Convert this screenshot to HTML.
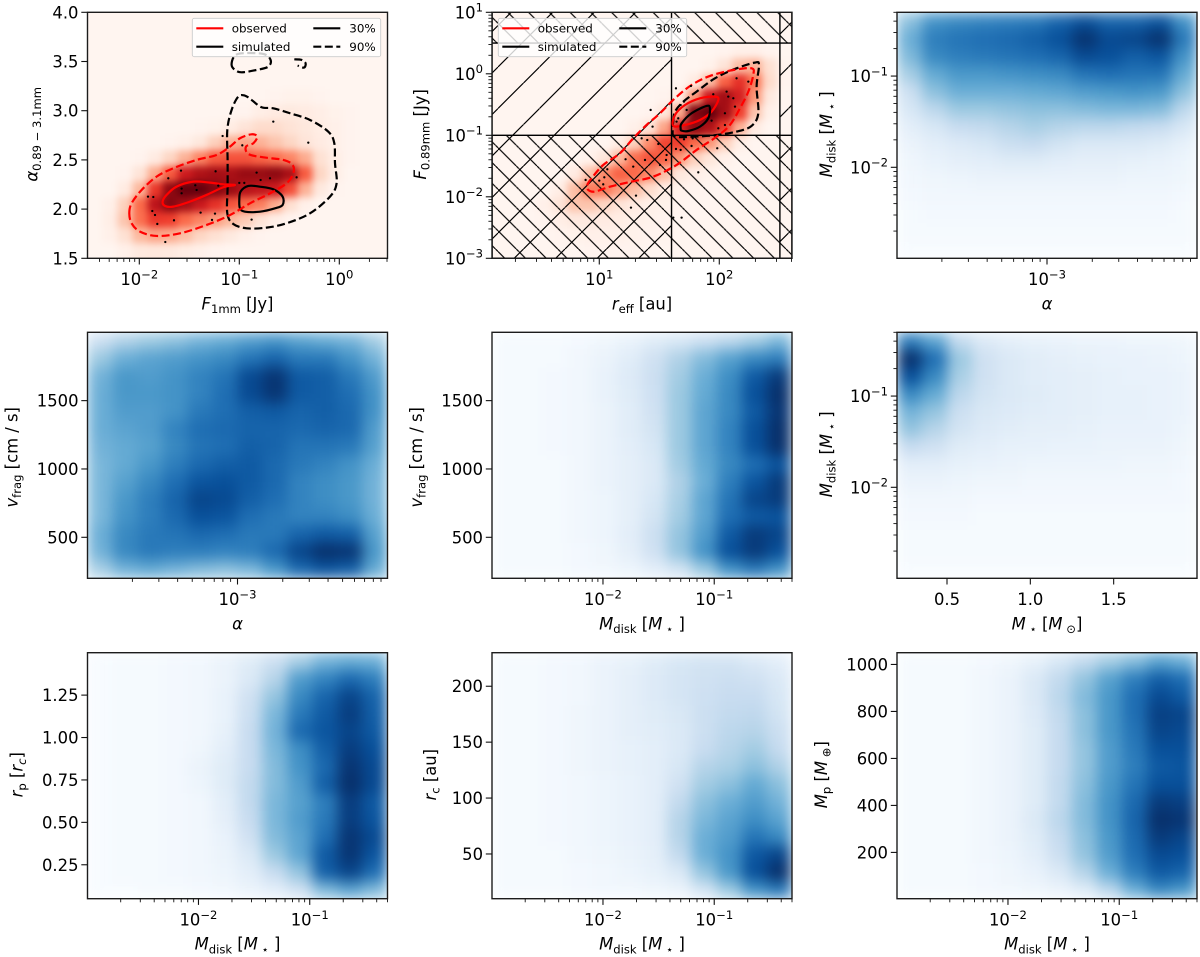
<!DOCTYPE html>
<html lang="en">
<head>
<meta charset="utf-8">
<title>Disk parameter density grid</title>
<style>
html,body{margin:0;padding:0;background:#fff;}
svg{display:block;font-family:"DejaVu Sans","Liberation Sans",sans-serif;}
</style>
</head>
<body>
<svg id="fig" xmlns="http://www.w3.org/2000/svg" width="1200" height="957" viewBox="0 0 1200 957">
<defs>
<filter id="blur-blue" filterUnits="userSpaceOnUse" x="-60" y="-60" width="1320" height="1080" color-interpolation-filters="sRGB"><feGaussianBlur stdDeviation="7"/></filter>
<filter id="blur-red" filterUnits="userSpaceOnUse" x="-60" y="-60" width="1320" height="1080" color-interpolation-filters="sRGB"><feGaussianBlur stdDeviation="3.6"/></filter>
<pattern id="hatch-forward" patternUnits="userSpaceOnUse" width="41.5" height="41.5"><path d="M0,25.5L25.5,0M25.5,41.5L41.5,25.5" stroke="#000" stroke-width="1.2" fill="none"/></pattern>
<pattern id="hatch-back" patternUnits="userSpaceOnUse" width="20.75" height="20.75"><path d="M0,2.5L18.25,20.75M18.25,0L20.75,2.5" stroke="#000" stroke-width="1.2" fill="none"/></pattern>
</defs>
</svg>
<script>
/* ---------- data: density grids (0-100 on the colormap), rows top to bottom ---------- */
const fluxAlphaDensity=[
[0,0,0,0,0,0,0,0,0,0,0,0,0,0,0,0,0,0,0,0],
[0,0,0,0,0,0,0,0,0,0,0,0,0,0,0,0,0,0,0,0],
[0,0,0,0,0,0,0,0,0,0,0,0,0,0,0,0,0,0,0,0],
[0,0,0,0,0,0,0,0,0,0,0,0,0,0,0,0,0,0,0,0],
[0,0,0,0,0,0,0,0,0,0,0,0,0,0,0,0,0,0,0,0],
[0,0,0,0,0,0,0,0,0,0,0,0,1,2,2,1,0,0,0,0],
[0,0,0,0,0,0,0,0,0,0,1,4,6,7,6,4,2,1,0,0],
[0,0,0,0,0,0,0,1,2,5,10,14,14,11,8,5,3,1,0,0],
[0,0,0,0,0,1,3,8,18,28,32,28,22,16,10,6,3,1,0,0],
[0,0,0,1,6,16,28,42,54,56,56,52,48,42,30,12,4,1,0,0],
[0,0,1,10,30,54,74,84,88,86,90,90,92,86,54,16,4,0,0,0],
[0,0,6,26,64,92,100,100,94,90,82,78,74,58,28,7,1,0,0,0],
[0,3,18,50,80,94,88,76,66,56,50,44,30,13,3,0,0,0,0,0],
[0,4,22,48,64,62,50,42,34,26,20,11,4,1,0,0,0,0,0,0],
[0,3,12,26,32,30,24,16,12,7,3,1,0,0,0,0,0,0,0,0],
[0,0,3,7,8,7,5,3,1,0,0,0,0,0,0,0,0,0,0,0]];
const radiusFluxDensity=[
[0,0,0,0,0,0,0,0,0,0,0,0,0,0,0,0,0,0,0,0],
[0,0,0,0,0,0,0,0,0,0,0,0,0,0,0,0,0,0,0,0],
[0,0,0,0,0,0,0,0,0,0,0,0,0,0,0,1,3,3,1,0],
[0,0,0,0,0,0,0,0,0,0,0,0,0,0,2,10,24,28,12,1],
[0,0,0,0,0,0,0,0,0,0,0,0,0,6,24,52,66,46,14,1],
[0,0,0,0,0,0,0,0,0,0,0,1,5,36,75,88,72,36,7,0],
[0,0,0,0,0,0,0,0,0,0,1,8,30,95,100,88,62,22,3,0],
[0,0,0,0,0,0,0,0,0,3,10,32,72,92,84,62,28,6,0,0],
[0,0,0,0,0,0,0,0,5,18,40,60,62,50,36,18,4,0,0,0],
[0,0,0,0,0,0,2,9,26,48,56,52,36,18,9,3,0,0,0,0],
[0,0,0,0,0,6,22,40,52,50,40,24,8,4,2,0,0,0,0,0],
[0,0,0,0,4,24,44,46,34,24,14,5,2,1,0,0,0,0,0,0],
[0,0,0,3,10,22,22,16,10,6,3,2,1,0,0,0,0,0,0,0],
[0,0,0,1,4,7,7,6,5,3,2,1,0,0,0,0,0,0,0,0],
[0,0,0,0,1,2,3,3,3,2,1,1,0,0,0,0,0,0,0,0],
[0,0,0,0,0,0,1,1,1,1,0,0,0,0,0,0,0,0,0,0]];
const alphaMdiskDensity=[
[42,62,66,68,70,72,80,88,80,80,86,62],
[50,70,74,76,78,82,88,99,90,92,99,72],
[45,66,70,72,74,76,80,90,88,82,86,62],
[35,52,60,60,62,64,66,74,76,74,74,52],
[22,42,50,50,50,52,54,58,60,62,60,42],
[16,28,38,38,40,42,42,44,46,46,44,28],
[10,16,24,26,30,34,30,28,28,26,24,16],
[6,10,13,16,22,24,18,14,14,14,12,8],
[4,7,9,10,12,12,10,9,9,8,7,5],
[3,4,5,6,6,6,6,6,6,5,5,4],
[2,3,3,3,3,3,3,3,3,3,3,2],
[1,2,2,2,2,2,2,2,2,2,2,1],
[1,1,1,1,1,1,1,1,1,1,1,1],
[0,0,0,0,0,0,0,0,0,0,0,0]];
const alphaVfragDensity=[
[22,32,38,42,48,52,58,62,56,52,48,36],
[38,50,55,58,62,66,74,80,72,72,62,48],
[48,60,58,62,68,74,90,98,84,82,72,58],
[50,60,60,62,68,76,90,98,84,82,76,62],
[50,58,58,62,72,76,82,84,80,82,78,62],
[50,55,58,68,76,78,80,80,78,80,78,58],
[48,52,56,66,74,76,82,80,74,74,72,56],
[46,52,60,70,78,82,84,78,72,68,62,50],
[46,56,66,76,86,88,84,78,68,64,60,48],
[46,60,70,80,92,90,82,76,68,64,60,48],
[46,62,70,78,88,86,76,72,68,68,64,50],
[50,66,72,74,78,76,72,72,80,84,82,56],
[48,66,72,70,70,68,70,78,92,100,98,60],
[34,48,52,48,44,42,46,60,78,86,82,52]];
const mdiskVfragDensity=[
[1,1,1,2,4,7,12,16,22,28,36,46],
[1,1,1,3,6,11,20,32,44,56,66,70],
[1,1,2,3,7,13,22,36,50,64,84,96],
[1,1,2,3,7,12,21,38,52,66,88,100],
[1,1,2,3,6,11,20,38,54,66,84,98],
[1,1,2,3,6,11,18,38,54,68,88,100],
[1,1,2,3,6,10,16,38,54,68,88,100],
[1,1,1,3,6,9,14,36,52,66,76,86],
[1,1,1,3,6,9,14,32,50,70,86,96],
[1,1,1,3,5,9,16,34,54,74,92,96],
[1,1,1,3,5,9,18,36,54,76,84,86],
[1,1,1,3,5,10,22,40,58,84,96,92],
[1,1,1,2,4,9,20,40,62,88,96,88],
[1,1,1,2,3,5,10,18,38,62,72,62]];
const mstarMdiskDensity=[
[70,55,26,14,10,8,7,6,6,5,5,4],
[100,76,38,20,14,11,9,8,7,7,6,5],
[88,66,34,20,14,11,10,9,8,7,7,6],
[66,52,28,18,14,12,10,9,8,8,7,6],
[48,40,22,15,13,11,10,9,8,8,7,6],
[40,30,18,13,11,9,9,8,7,7,7,5],
[24,20,12,10,8,8,7,7,6,6,6,4],
[10,10,8,7,6,5,5,5,5,4,4,3],
[6,6,5,4,4,3,3,3,3,3,3,2],
[3,3,3,2,2,2,2,2,2,2,2,2],
[2,2,2,1,1,1,1,1,1,1,1,1],
[1,1,1,1,1,1,1,1,1,1,1,1],
[1,1,1,1,1,1,1,1,1,1,1,1],
[0,0,0,0,0,0,0,0,0,0,0,0]];
const mdiskRpDensity=[
[0,1,1,2,3,6,12,22,35,48,52,50],
[0,1,1,2,3,6,14,30,58,68,78,70],
[0,1,1,2,3,7,20,40,66,80,92,80],
[0,1,1,2,3,7,22,46,72,84,95,82],
[0,1,1,2,3,8,24,48,78,86,92,84],
[0,1,1,2,4,10,24,46,64,82,95,88],
[0,1,1,2,6,12,24,44,62,78,98,90],
[0,1,1,2,5,12,26,44,58,82,100,90],
[0,1,1,2,3,10,26,46,56,70,95,84],
[0,1,1,2,3,9,24,46,58,72,95,86],
[0,1,1,2,3,7,20,44,55,76,98,90],
[0,1,1,2,3,6,14,38,54,84,98,86],
[0,1,1,2,3,5,10,24,40,82,92,76],
[0,0,1,1,2,3,6,10,20,45,55,45]];
const mdiskRcDensity=[
[1,1,2,3,6,8,12,16,18,18,14,10],
[1,1,2,3,6,9,13,17,20,22,20,14],
[1,1,2,3,6,9,13,17,21,24,24,16],
[1,1,2,4,6,9,12,15,22,26,27,18],
[1,1,2,4,6,9,11,14,22,28,30,22],
[1,1,2,4,6,8,10,14,24,30,36,25],
[1,1,2,4,6,8,10,16,30,34,42,32],
[1,1,2,3,5,7,10,20,36,42,52,42],
[1,1,2,3,5,7,10,26,42,50,58,48],
[1,1,2,3,5,7,10,30,46,55,64,55],
[1,1,2,3,5,7,10,30,50,58,74,66],
[1,1,1,3,4,6,9,26,50,62,85,92],
[1,1,1,2,3,5,8,14,40,60,88,100],
[1,1,1,2,3,3,4,6,18,38,62,72]];
const mdiskMpDensity=[
[1,1,1,2,4,8,16,26,36,44,56,50],
[1,1,1,3,6,14,26,40,56,70,82,76],
[1,1,1,3,6,14,28,44,60,76,90,84],
[1,1,1,3,6,13,26,42,60,76,94,92],
[1,1,1,3,6,12,25,42,60,74,92,90],
[1,1,1,3,6,12,25,40,58,72,88,88],
[1,1,1,3,6,12,25,40,58,70,84,86],
[1,1,1,3,6,12,26,42,60,74,88,88],
[1,1,1,3,6,12,26,44,62,78,96,94],
[1,1,1,3,6,14,28,44,62,80,100,98],
[1,1,1,3,6,12,25,42,60,78,96,92],
[1,1,1,3,5,10,22,40,58,76,90,88],
[1,1,1,2,4,7,14,30,50,70,84,80],
[1,1,1,2,3,4,6,12,28,50,66,60]];

/* ---------- data: contours, as [log10 x, y] or [log10 x, log10 y] ---------- */
const fluxObserved90=[[-2.1,1.957],[-2.077,2.059],[-1.977,2.194],[-1.827,2.33],[-1.66,2.415],[-1.427,2.5],[-1.227,2.55],[-1.093,2.635],[-0.993,2.72],[-0.877,2.76],[-0.82,2.736],[-0.86,2.669],[-0.933,2.635],[-0.91,2.56],[-0.76,2.526],[-0.56,2.5],[-0.467,2.449],[-0.46,2.364],[-0.527,2.262],[-0.693,2.16],[-0.893,2.059],[-1.093,1.94],[-1.327,1.839],[-1.593,1.754],[-1.827,1.727],[-1.993,1.771],[-2.077,1.856]];
const fluxObserved30=[[-1.767,2.076],[-1.727,2.144],[-1.627,2.228],[-1.46,2.279],[-1.293,2.269],[-1.16,2.252],[-1.043,2.245],[-1.16,2.222],[-1.327,2.144],[-1.493,2.076],[-1.66,2.025],[-1.743,2.032]];
const fluxSimulated30=[[-1.0,2.093],[-0.987,2.178],[-0.91,2.235],[-0.793,2.228],[-0.66,2.201],[-0.567,2.127],[-0.567,2.042],[-0.643,2.008],[-0.793,1.974],[-0.943,1.974],[-0.993,2.008]];
const fluxSimulated90=[[-1.12,1.957],[-1.06,1.849],[-0.927,1.805],[-0.727,1.812],[-0.527,1.856],[-0.293,1.957],[-0.093,2.127],[-0.027,2.262],[-0.043,2.465],[-0.05,2.669],[-0.11,2.787],[-0.293,2.906],[-0.493,2.974],[-0.66,3.024],[-0.777,3.035],[-0.877,3.109],[-0.943,3.153],[-1.01,3.143],[-1.077,3.007],[-1.12,2.804],[-1.117,2.499],[-1.117,2.228]];
const fluxSimulated90Island=[[-1.077,3.465],[-1.053,3.549],[-0.977,3.583],[-0.76,3.577],[-0.687,3.516],[-0.71,3.448],[-0.827,3.414],[-0.977,3.39],[-1.043,3.414]];
const fluxSimulated90Fragment=[[-0.45,3.522],[-0.377,3.516],[-0.337,3.482],[-0.353,3.438],[-0.417,3.458]];
const radiusObserved90=[[0.9,-1.808],[0.936,-1.699],[1.033,-1.482],[1.172,-1.293],[1.283,-1.049],[1.394,-0.832],[1.506,-0.642],[1.631,-0.398],[1.769,-0.182],[1.922,-0.035],[2.117,0.062],[2.269,0.089],[2.283,-0.019],[2.242,-0.29],[2.172,-0.561],[2.089,-0.832],[1.978,-1.022],[1.811,-1.238],[1.644,-1.482],[1.45,-1.672],[1.269,-1.753],[1.089,-1.835],[0.964,-1.916],[0.908,-1.889]];
const radiusObserved30=[[1.617,-0.848],[1.631,-0.669],[1.714,-0.507],[1.839,-0.398],[1.964,-0.371],[1.992,-0.425],[1.936,-0.615],[1.839,-0.751],[1.714,-0.832]];
const radiusSimulated30=[[1.678,-0.886],[1.686,-0.805],[1.769,-0.642],[1.894,-0.523],[1.922,-0.561],[1.908,-0.724],[1.839,-0.859],[1.742,-0.93],[1.686,-0.924]];
const radiusSimulated90=[[1.617,-0.778],[1.631,-0.615],[1.7,-0.453],[1.811,-0.29],[1.964,-0.073],[2.144,0.089],[2.297,0.182],[2.331,0.144],[2.311,-0.209],[2.325,-0.642],[2.269,-0.848],[2.144,-0.94],[1.978,-0.995],[1.783,-1.022],[1.631,-1.022],[1.611,-0.913]];

/* ---------- data: observed sources ---------- */
const fluxPoints=[[-0.66,2.889],[-0.31,2.675],[-1.167,2.743],[-0.97,2.648],[-1.583,2.391],[-1.71,2.313],[-1.237,2.384],[-0.827,2.371],[-0.787,2.296],[-0.693,2.313],[-0.427,2.323],[-1.0,2.266],[-0.95,2.266],[-1.44,2.242],[-1.427,2.194],[-1.577,2.208],[-1.577,2.161],[-1.21,2.238],[-1.913,2.127],[-1.86,2.123],[-1.87,1.981],[-1.843,1.94],[-1.82,1.849],[-1.653,1.886],[-1.387,1.964],[-1.243,1.954],[-1.273,1.89],[-0.877,1.893],[-1.74,1.666]];
const radiusPoints=[[1.428,-0.588],[1.444,-0.859],[1.639,-0.236],[1.764,-0.198],[2.144,-0.073],[2.242,-0.127],[2.061,-0.29],[2.075,-0.371],[1.95,-0.333],[2.117,-0.398],[2.131,-0.534],[2.047,-0.642],[1.936,-0.762],[1.706,-0.453],[1.678,-0.507],[1.728,-0.588],[1.644,-0.778],[1.658,-0.724],[2.047,-0.832],[1.992,-0.886],[1.778,-1.049],[1.706,-1.065],[1.639,-1.222],[1.678,-1.238],[1.769,-1.173],[1.983,-1.211],[1.825,-1.602],[1.353,-1.049],[1.4,-1.076],[1.492,-1.141],[1.561,-1.32],[1.219,-1.39],[1.381,-1.401],[1.283,-1.509],[1.067,-1.553],[1.042,-1.683],[1.0,-1.737],[1.033,-1.797],[0.886,-1.726],[1.306,-1.981],[1.264,-2.176],[1.617,-2.339],[1.686,-2.339],[1.556,-1.401],[1.506,-1.482]];

/* ---------- data: ticks and selection limits ---------- */
const alphaTicks=[1.5,2.0,2.5,3.0,3.5,4.0];
const vfragTicks=[500,1000,1500];
const mstarTicks=[0.5,1.0,1.5];
const rpTicks=[0.25,0.5,0.75,1.0,1.25];
const rcTicks=[50,100,150,200];
const mpTicks=[200,400,600,800,1000];
const radiusLimits=[40,320];
const fluxLimits=[0.1,3.16];

/* ---------- scales ---------- */
function linScale(min,max,p0,p1){
  return {log:false,min:min,max:max,
    to:function(v){return p0+(v-min)/(max-min)*(p1-p0);},
    at:function(f){return min+f*(max-min);}};
}
function logScale(min,max,p0,p1){
  const a=Math.log10(min),b=Math.log10(max);
  return {log:true,min:min,max:max,
    to:function(v){return p0+(Math.log10(v)-a)/(b-a)*(p1-p0);},
    at:function(f){return Math.pow(10,a+f*(b-a));}};
}

/* ---------- colormaps ---------- */
const blues=["#f7fbff","#deebf7","#c6dbef","#9ecae1","#6baed6","#4292c6","#2171b5","#08519c","#08306b"];
const reds=["#fff5f0","#fee0d2","#fcbba1","#fc9272","#fb6a4a","#ef3b2c","#cb181d","#a50f15","#67000d"];
function hexRGB(h){return [parseInt(h.substr(1,2),16),parseInt(h.substr(3,2),16),parseInt(h.substr(5,2),16)];}
function cmap(stops,v){
  const t=Math.max(0,Math.min(1,v/100))*(stops.length-1);
  const i=Math.min(stops.length-2,Math.floor(t)),f=t-i;
  const a=hexRGB(stops[i]),b=hexRGB(stops[i+1]);
  return "rgb("+a.map(function(c,k){return Math.round(c+(b[k]-c)*f);}).join(",")+")";
}

/* ---------- svg helpers ---------- */
const NS="http://www.w3.org/2000/svg";
const fig=document.getElementById("fig");
function mk(tag,attrs,parent){
  const e=document.createElementNS(NS,tag);
  for(const k in attrs){e.setAttribute(k,attrs[k]);}
  parent.appendChild(e);
  return e;
}
function sub(t){return '<tspan dy="3.6" font-size="11.6">'+t+'</tspan><tspan dy="-3.6" font-size="16.4">&#8203;</tspan>';}
function it(t){return '<tspan font-style="italic">'+t+'</tspan>';}
const labelFlux1=it("F")+sub("1mm")+" [Jy]";
const labelAlphaIdx=it("&#945;")+sub("0.89 &#8722; 3.1mm");
const labelReff=it("r")+sub("eff")+" [au]";
const labelF089=it("F")+sub("0.89mm")+" [Jy]";
const labelAlpha=it("&#945;");
const labelMdisk=it("M")+sub("disk")+" ["+it("M")+sub(" &#8902;")+" ]";
const labelVfrag=it("v")+sub("frag")+" [cm / s]";
const labelMstar=it("M")+sub(" &#8902;")+" ["+it("M")+sub(" &#8857;")+"]";
const labelRp=it("r")+sub("p")+" ["+it("r")+'<tspan dy="3.6" font-size="11.6" font-style="italic">c</tspan><tspan dy="-3.6">]</tspan>';
const labelRc=it("r")+sub("c")+" [au]";
const labelMp=it("M")+sub("p")+" ["+it("M")+sub(" &#8853;")+"]";

function smoothPath(pts,closed){
  const n=pts.length;
  let d="M"+pts[0][0].toFixed(2)+","+pts[0][1].toFixed(2);
  const last=closed?n:n-1;
  for(let i=0;i<last;i++){
    const p0=pts[closed?(i-1+n)%n:Math.max(0,i-1)];
    const p1=pts[i];
    const p2=pts[closed?(i+1)%n:i+1];
    const p3=pts[closed?(i+2)%n:Math.min(n-1,i+2)];
    d+="C"+(p1[0]+(p2[0]-p0[0])/6).toFixed(2)+","+(p1[1]+(p2[1]-p0[1])/6).toFixed(2)+" "+(p2[0]-(p3[0]-p1[0])/6).toFixed(2)+","+(p2[1]-(p3[1]-p1[1])/6).toFixed(2)+" "+p2[0].toFixed(2)+","+p2[1].toFixed(2);
  }
  return d+(closed?"Z":"");
}

/* ---------- panel drawing ---------- */
let clipCount=0;
function drawPanel(cfg){
  const L=cfg.box[0],T=cfg.box[1],R=L+300,B=T+246;
  const g=mk("g",{},fig);
  
  
  clipCount++;
  const clip=mk("clipPath",{id:"clip"+clipCount},g);
  mk("rect",{x:L,y:T,width:300,height:246},clip);
  const plot=mk("g",{"clip-path":"url(#clip"+clipCount+")"},g);
  const heat=mk("g",{filter:"url(#"+(cfg.red?"blur-red":"blur-blue")+")","shape-rendering":"crispEdges"},plot);
  
  
  const rows=cfg.grid.length,cols=cfg.grid[0].length;
  const ext=cfg.red?50:0;
  for(let j=0;j<rows;j++){
    for(let i=0;i<cols;i++){
      const x0=cfg.sx.to(cfg.sx.at(i/cols))-(i===0?ext:0);
      const x1=cfg.sx.to(cfg.sx.at((i+1)/cols))+(i===cols-1?ext:0.5);
      const y0=cfg.sy.to(cfg.sy.at(1-j/rows))-(j===0?ext:0);
      const y1=cfg.sy.to(cfg.sy.at(1-(j+1)/rows))+(j===rows-1?ext:0.5);
      const cell=mk("rect",{x:x0,y:y0,width:x1-x0,height:y1-y0,fill:cmap(cfg.red?reds:blues,cfg.grid[j][i])},heat);
      
      
    }
  }
  if(cfg.overlay){cfg.overlay(plot,cfg);}
  /* spines */
  const frame=mk("rect",{x:L,y:T,width:300,height:246,fill:"none",stroke:"#1c1c1c","stroke-width":1.4},g);
  
  
  /* x ticks */
  drawTicks(g,cfg.sx,cfg.xTicks,cfg.xFmt,true,B,L,T);
  drawTicks(g,cfg.sy,cfg.yTicks,cfg.yFmt,false,B,L,T);
  /* axis labels */
  const xl=mk("text",{x:L+150+(cfg.xlabelDx||0),y:B+51,"text-anchor":"middle","font-size":16.4,fill:"#000"},g);
  xl.innerHTML=cfg.xlabel;
  
  
  const yx=L-cfg.ylabelOffset,yy=T+cfg.ylabelCenter;
  const yl=mk("text",{x:yx,y:yy,"text-anchor":"middle","font-size":16.4,fill:"#000",transform:"rotate(-90 "+yx+" "+yy+")"},g);
  yl.innerHTML=cfg.ylabel;
  
  
  if(cfg.legend){drawLegend(g,cfg.legend[0],cfg.legend[1]);}
}
function powLabel(v){
  const e=Math.round(Math.log10(v));
  return '10<tspan dy="-6.6" font-size="11.6">'+(e<0?"&#8722;"+(-e):e)+'</tspan>';
}
function drawTicks(g,s,ticks,fmt,isX,B,L,T){
  const minorLen=3.6,majorLen=6.2;
  function tick(v,len,labelled){
    const p=s.to(v);
    const ln=mk("line",isX?{x1:p,x2:p,y1:B,y2:B+len}:{x1:L,x2:L-len,y1:p,y2:p},g);
    ln.setAttribute("stroke","#111");
    ln.setAttribute("stroke-width",labelled?1.1:0.9);
    
    
    if(labelled){
      const t=mk("text",isX?{x:p,y:B+26.7,"text-anchor":"middle"}:{x:L-9,y:p+6,"text-anchor":"end"},g);
      t.setAttribute("font-size",16.4);
      t.innerHTML=s.log?powLabel(v):fmt(v);
      
      
    }
  }
  if(s.log){
    const a=Math.floor(Math.log10(s.min)),b=Math.ceil(Math.log10(s.max));
    for(let e=a;e<=b;e++){
      for(let m=1;m<10;m++){
        const v=m*Math.pow(10,e);
        if(v<s.min*0.999||v>s.max*1.001){continue;}
        tick(v,m===1?majorLen:minorLen,m===1);
      }
    }
  }else{
    ticks.forEach(function(v){tick(v,majorLen,true);});
  }
}
function drawLegend(g,x,y){
  const lg=mk("g",{},g);
  
  
  const box=mk("rect",{x:x,y:y,width:188.4,height:38.4,rx:2,fill:"#fff","fill-opacity":0.8,stroke:"#ccc","stroke-width":0.9},lg);
  
  
  const entries=[
    {lx:4,tx:39.4,row:0,text:"observed",stroke:"#f00",dash:""},
    {lx:4,tx:39.4,row:1,text:"simulated",stroke:"#000",dash:""},
    {lx:121,tx:157,row:0,text:"30%",stroke:"#000",dash:""},
    {lx:121,tx:157,row:1,text:"90%",stroke:"#000",dash:"8 3.5"}];
  entries.forEach(function(en){
    const ly=y+10+en.row*18.4;
    const ln=mk("line",{x1:x+en.lx,x2:x+en.lx+27,y1:ly,y2:ly,stroke:en.stroke,"stroke-width":2.1},lg);
    if(en.dash){ln.setAttribute("stroke-dasharray",en.dash);}
    
    
    const t=mk("text",{x:x+en.tx,y:ly+4.2,"font-size":11.9,fill:"#000"},lg);
    t.textContent=en.text;
    
    
  });
}
function drawContour(parent,cfg,points,color,dashed,closed,yIsLog){
  const pts=points.map(function(p){return [cfg.sx.to(Math.pow(10,p[0])),cfg.sy.to(yIsLog?Math.pow(10,p[1]):p[1])];});
  const c=mk("path",{d:smoothPath(pts,closed),fill:"none",stroke:color,"stroke-width":2.2,"stroke-linejoin":"round"},parent);
  if(dashed){c.setAttribute("stroke-dasharray","8 3.5");}
  
  
}
function drawPoints(parent,cfg,points,yIsLog){
  points.forEach(function(p){
    const d=mk("circle",{cx:cfg.sx.to(Math.pow(10,p[0])),cy:cfg.sy.to(yIsLog?Math.pow(10,p[1]):p[1]),r:1.15,fill:"#000"},parent);
    
    
  });
}
function overlayFlux(plot,cfg){
  drawContour(plot,cfg,fluxSimulated90,"#000",true,true,false);
  drawContour(plot,cfg,fluxSimulated90Island,"#000",true,true,false);
  drawContour(plot,cfg,fluxSimulated90Fragment,"#000",true,false,false);
  drawContour(plot,cfg,fluxSimulated30,"#000",false,true,false);
  drawContour(plot,cfg,fluxObserved90,"#f00",true,true,false);
  drawContour(plot,cfg,fluxObserved30,"#f00",false,true,false);
  drawPoints(plot,cfg,fluxPoints,false);
}
function overlayRadius(plot,cfg){
  const xa=cfg.sx.to(radiusLimits[0]),xb=cfg.sx.to(radiusLimits[1]);
  const ya=cfg.sy.to(fluxLimits[0]),yb=cfg.sy.to(fluxLimits[1]);
  const L=cfg.box[0],T=cfg.box[1],R=L+300,B=T+246;
  const regions=[
    [L,T,xa,B,"hatch-forward"],[xb,T,R,B,"hatch-forward"],
    [L,ya,R,B,"hatch-back"],[L,T,R,yb,"hatch-back"]];
  regions.forEach(function(r){
    const h=mk("rect",{x:r[0],y:r[1],width:r[2]-r[0],height:r[3]-r[1],fill:"url(#"+r[4]+")",stroke:"#000","stroke-width":1.4},plot);
    
    
  });
  drawContour(plot,cfg,radiusSimulated90,"#000",true,true,true);
  drawContour(plot,cfg,radiusObserved90,"#f00",true,true,true);
  drawContour(plot,cfg,radiusObserved30,"#f00",false,true,true);
  drawContour(plot,cfg,radiusSimulated30,"#000",false,true,true);
  drawPoints(plot,cfg,radiusPoints,true);
}

/* ---------- panels ---------- */
const colX=[87.5,492,897],rowY=[12.3,332.3,652.7];
function xScale(kind,c){
  const a=colX[c];
  if(kind==="flux"){return logScale(Math.pow(10,-2.518),Math.pow(10,0.482),a,a+300);}
  if(kind==="reff"){return logScale(Math.pow(10,0.106),Math.pow(10,2.606),a,a+300);}
  if(kind==="alpha"){return logScale(1.006e-4,0.994e-2,a,a+300);}
  if(kind==="mdisk"){return logScale(1.006e-3,0.5,a,a+300);}
  return linScale(0.2,2.0,a,a+300);
}
function yLin(min,max,r){return linScale(min,max,rowY[r]+246,rowY[r]);}
function yLog(min,max,r){return logScale(min,max,rowY[r]+246,rowY[r]);}
const f1=function(v){return v.toFixed(1);};
const f2=function(v){return v.toFixed(2);};
const f0=function(v){return String(v);};

drawPanel({name:"panel-flux-spectral-index",box:[colX[0],rowY[0]],red:true,grid:fluxAlphaDensity,sx:xScale("flux",0),sy:yLin(1.5,4.0,0),yTicks:alphaTicks,yFmt:f1,xlabel:labelFlux1,ylabel:labelAlphaIdx,ylabelOffset:50,ylabelCenter:122,overlay:overlayFlux,legend:[192.3,18.3]});
drawPanel({name:"panel-radius-flux",box:[colX[1],rowY[0]],red:true,grid:radiusFluxDensity,sx:xScale("reff",1),sy:yLog(1e-3,10,0),xlabel:labelReff,ylabel:labelF089,ylabelOffset:66,ylabelCenter:122,overlay:overlayRadius,legend:[498.3,18.3]});
drawPanel({name:"panel-alpha-mdisk",box:[colX[2],rowY[0]],grid:alphaMdiskDensity,sx:xScale("alpha",2),sy:yLog(1.006e-3,0.5,0),xlabel:labelAlpha,ylabel:labelMdisk,ylabelOffset:65,ylabelCenter:122});
drawPanel({name:"panel-alpha-vfrag",box:[colX[0],rowY[1]],grid:alphaVfragDensity,sx:xScale("alpha",0),sy:yLin(200,2000,1),yTicks:vfragTicks,yFmt:f0,xlabel:labelAlpha,ylabel:labelVfrag,ylabelOffset:70,ylabelCenter:125});
drawPanel({name:"panel-mdisk-vfrag",box:[colX[1],rowY[1]],grid:mdiskVfragDensity,sx:xScale("mdisk",1),sy:yLin(200,2000,1),yTicks:vfragTicks,yFmt:f0,xlabel:labelMdisk,ylabel:labelVfrag,ylabelOffset:70,ylabelCenter:125});
drawPanel({name:"panel-mstar-mdisk",box:[colX[2],rowY[1]],grid:mstarMdiskDensity,sx:xScale("mstar",2),sy:yLog(1.006e-3,0.5,1),xTicks:mstarTicks,xFmt:f1,xlabel:labelMstar,ylabel:labelMdisk,ylabelOffset:65,ylabelCenter:122});
drawPanel({name:"panel-mdisk-rp",box:[colX[0],rowY[2]],grid:mdiskRpDensity,sx:xScale("mdisk",0),sy:yLin(0.05,1.5,2),yTicks:rpTicks,yFmt:f2,xlabel:labelMdisk,ylabel:labelRp,ylabelOffset:65,ylabelCenter:122});
drawPanel({name:"panel-mdisk-rc",box:[colX[1],rowY[2]],grid:mdiskRcDensity,sx:xScale("mdisk",1),sy:yLin(10,230,2),yTicks:rcTicks,yFmt:f0,xlabel:labelMdisk,ylabel:labelRc,ylabelOffset:56,ylabelCenter:122});
drawPanel({name:"panel-mdisk-mp",box:[colX[2],rowY[2]],grid:mdiskMpDensity,sx:xScale("mdisk",2),sy:yLin(3,1050,2),yTicks:mpTicks,yFmt:f0,xlabel:labelMdisk,ylabel:labelMp,ylabelOffset:70,ylabelCenter:122});
</script>
</body>
</html>
